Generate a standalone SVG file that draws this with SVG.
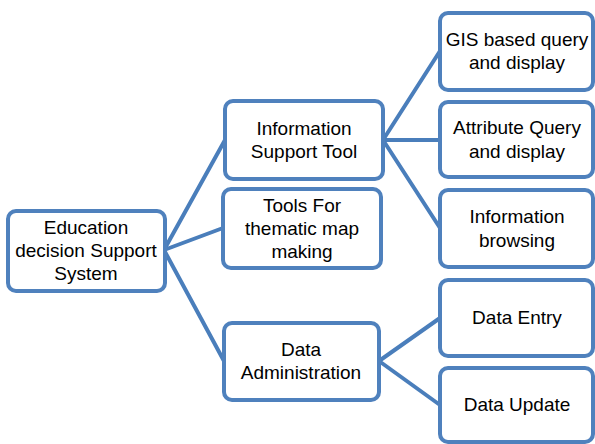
<svg xmlns="http://www.w3.org/2000/svg" width="595" height="444" viewBox="0 0 595 444">
<style>
.box{fill:#fff;stroke:#4F81BD;stroke-width:4}
.t{font-family:"Liberation Sans",Arial,sans-serif;font-size:19px;fill:#000;text-anchor:middle}
.c{stroke:#4A7EBB;stroke-width:4;fill:none;stroke-linecap:round}
</style>
<rect width="595" height="444" fill="#fff"/>
<g id="connectors">
<line class="c" x1="164" y1="250" x2="225" y2="140"/>
<line class="c" x1="164" y1="250" x2="223" y2="228"/>
<line class="c" x1="164" y1="250" x2="224" y2="361"/>
<line class="c" x1="383" y1="140" x2="440" y2="51"/>
<line class="c" x1="383" y1="140" x2="440" y2="140"/>
<line class="c" x1="383" y1="140" x2="440" y2="228"/>
<line class="c" x1="379" y1="361" x2="440" y2="318"/>
<line class="c" x1="379" y1="361" x2="440" y2="405"/>
</g>
<g id="root">
<rect class="box" x="8" y="211" width="157" height="80" rx="8"/>
<text class="t" x="86" y="234">Education</text>
<text class="t" x="86" y="257">decision Support</text>
<text class="t" x="86" y="280">System</text>
</g>
<g id="info">
<rect class="box" x="225" y="101" width="158" height="78" rx="8"/>
<text class="t" x="304" y="135">Information</text>
<text class="t" x="304" y="158">Support Tool</text>
</g>
<g id="tools">
<rect class="box" x="223" y="189" width="158" height="79" rx="8"/>
<text class="t" x="302" y="212">Tools For</text>
<text class="t" x="302" y="235">thematic map</text>
<text class="t" x="302" y="258">making</text>
</g>
<g id="admin">
<rect class="box" x="224" y="323" width="155" height="77" rx="8"/>
<text class="t" x="301" y="356">Data</text>
<text class="t" x="301" y="379">Administration</text>
</g>
<g id="gis">
<rect class="box" x="440" y="13" width="153" height="77" rx="8"/>
<text class="t" x="517" y="46">GIS based query</text>
<text class="t" x="517" y="69">and display</text>
</g>
<g id="attr">
<rect class="box" x="440" y="102" width="153" height="75" rx="8"/>
<text class="t" x="517" y="134">Attribute Query</text>
<text class="t" x="517" y="158">and display</text>
</g>
<g id="browse">
<rect class="box" x="440" y="190" width="153" height="77" rx="8"/>
<text class="t" x="517" y="223">Information</text>
<text class="t" x="517" y="247">browsing</text>
</g>
<g id="entry">
<rect class="box" x="440" y="280" width="153" height="76" rx="8"/>
<text class="t" x="517" y="324">Data Entry</text>
</g>
<g id="update">
<rect class="box" x="440" y="368" width="153" height="74" rx="8"/>
<text class="t" x="517" y="411">Data Update</text>
</g>
</svg>
